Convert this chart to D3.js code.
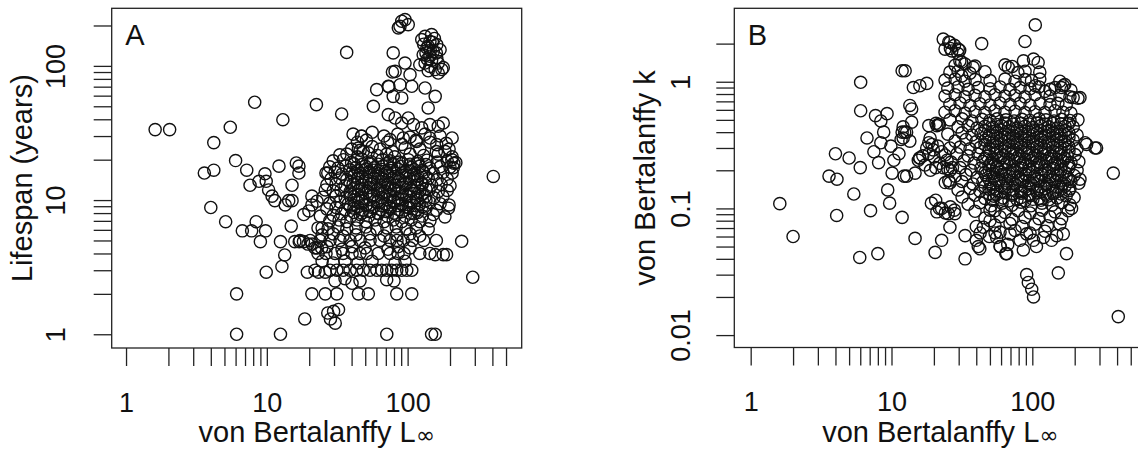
<!DOCTYPE html>
<html>
<head>
<meta charset="utf-8">
<script src="https://cdn.jsdelivr.net/npm/d3@7"></script>
<style>
  body { margin: 0; background: #fff; }
  svg text { font-family: "Liberation Sans", Arial, sans-serif; fill: #111; }
</style>
</head>
<body>
<svg id="chart" width="1138" height="455"></svg>
<script>
const svg = d3.select("#chart");

// log axis ticks, labels only on the decades
const linfTicks = [1,2,3,4,5,6,7,8,9,10,20,30,40,50,60,70,80,90,100,200,300,400,500];
const linfLabels = [1, 10, 100];
const lifespanTicks = [1,2,3,4,5,6,7,8,9,10,20,30,40,50,60,70,80,90,100,200];
const lifespanLabels = [1, 10, 100];
const kTicks = [0.01,0.02,0.03,0.04,0.05,0.06,0.07,0.08,0.09,0.1,0.2,0.3,0.4,0.5,0.6,0.7,0.8,0.9,1,2];
const kLabels = [0.01, 0.1, 1];

// panel A: [L-infinity, lifespan (years)]
const linfLifespan = [
  [1.61,33.5],[2.04,33.5],[8.2,53.6],[22.5,51.4],[13.0,39.7],[5.5,34.9],[4.2,26.8],[6.0,19.7],[3.6,15.9],[4.2,16.7],
  [7.2,16.7],[7.6,12.9],[8.8,13.8],[9.7,15.7],[9.9,13.8],[10.3,11.9],[10.9,10.7],[11.4,9.9],[12.2,17.9],[16.2,18.9],
  [16.9,17.9],[16.9,15.9],[15.1,12.9],[4.0,8.8],[5.1,6.9],[6.7,5.9],[7.8,5.9],[8.4,6.9],[9.8,5.9],[9.0,4.9],
  [12.5,4.9],[13.4,3.9],[12.8,3.2],[9.9,2.9],[14.9,6.4],[13.5,9.2],[14.3,9.9],[15.1,9.9],[15.8,4.9],[17.0,4.9],
  [18.2,4.9],[19.6,4.7],[21.0,4.7],[22.8,4.4],[24.5,4.4],[18.3,7.8],[19.9,8.3],[20.9,10.7],[20.9,9.2],[22.7,9.8],
  [24.0,7.6],[24.7,6.2],[26.0,11.9],[19.4,2.9],[23.3,2.9],[26.0,2.9],[6.1,2.0],[20.9,2.0],[26.0,2.0],[18.6,1.3],
  [6.1,1.0],[12.5,1.0],[27.1,1.44],[28.3,1.3],[27.1,15.9],
  [90.8,215],[95.8,221],[88.3,197],[101,203],[85.9,192],
  [133,166],[148,171],[126,157],[144,152],[161,144],[137,136],[152,128],[170,132],[129,121],[144,118],
  [161,115],[175,94],[144,99],[133,105],[157,94],[179,97],[140,92],[122,102],[165,88.5],
  [140,140],[150,150],[135,125],[148,110],[160,125],[130,145],[155,160],[145,130],[165,105],[138,112],
  [36.9,126],[79,125],[81.5,91],[95.8,105],[104,86],[88.3,72.4],[107,70.5],[60.3,66.5],[72.9,70.5],[79,59.3],
  [90.8,57.7],[57.1,50],[133,68.4],[157,59.3],[140,48.6],[34,43.8],[72.9,43.3],[81.5,40.9],[101,40.9],[90.8,37.5],
  [110,36.5],[126,34.5],[144,36.5],[165,35.5],[179,37.5],[47.2,29.9],[44.7,24.4],[48.4,23.1],[75,28.2],[93.1,29],
  [116,27.4],[144,29],[161,25.9],[184,23.1],[206,20],[211,17.4],[406,15.0],[195,8.7],[242,4.93],[179,3.92],
  [189,3.92],[157,3.92],[290,2.66],[71.1,1],[148,1],[157,1],[29.8,1.48],[30.6,1.21],[32.3,1.53],
  [31.4,2],[44.7,2],[52.6,2],[83.7,2],[107,2],[78,90],[73.6,70],
  [41,31],[47,30],[56,32],[68,30],[85,31],[104,29.5],[133,31],[170,30],[207,29],
  [44,27],[51,28],[72,27],[91,26],[115,28],[144,27],[188,26.5],
  [40,24],[46,23.5],[56,25],[64,24],[78,23],[96,24.5],[122,24],[160,23],[197,24],
  [33,21.7],[37,22],[44,21],[52.5,22.5],[61,21.5],[71,22],[81,21],[104,22],[130,21.5],[165,22],[207,21],[220,19],
  [29.6,19.6],[35,20],[40,19],[47,20.3],[55,19.3],[66,20],[75,19.6],[87,19.2],[101,20],[118,19.4],[137,19.8],[162,19.2],[191,19.6],[213,18.8],
  [28,17.7],[32,17.3],[36.5,18],[43,17.5],[50,17.9],[58,17.4],[67,17.8],[77.5,17.3],[90,17.8],[106,17.5],[122,17.9],[144,17.3],[170,17.7],[200,17.6],
  [26.3,15.9],[30.5,16.2],[34.3,15.6],[40.3,16],[46,15.8],[53,16.2],[62,15.7],[71.5,16],[83,15.8],[96,16.2],[111,15.7],[130,16],[152,15.8],[178,16.1],[207,15.9],
  [28.6,14.4],[33,14.6],[37,14.2],[44,14.5],[50.6,14.3],[58,14.6],[67,14.3],[77.5,14.5],[88,14.2],[102,14.6],[118,14.3],[140,14.5],[162,14.2],[191,14.4],
  [26.7,13],[31,13.2],[36,12.8],[41,13.1],[47.4,12.9],[55,13.2],[64,12.8],[72.5,13.1],[83,12.9],[96,13.2],[111,12.8],[127,13.1],[148,12.9],[173,13.1],[200,12.8],
  [29.6,11.7],[33.6,11.9],[39,11.5],[45,11.8],[52.5,11.6],[60.6,11.9],[69,11.6],[80,11.8],[91,11.5],[106,11.8],[122,11.6],[142,11.9],[165,11.6],[191,11.8],
  [25,10.5],[31,10.7],[36,10.4],[41.6,10.6],[48,10.3],[56,10.7],[65,10.4],[75,10.6],[85.5,10.3],[99,10.7],[115,10.4],[133,10.6],[154,10.4],[178,10.6],
  [28,9.5],[33,9.7],[38,9.4],[44.4,9.6],[51.4,9.3],[60.6,9.6],[69,9.4],[80,9.7],[91,9.4],[106,9.6],[122,9.3],[144,9.6],[170,9.4],[197,9.2],
  [26.7,8.6],[31,8.8],[36,8.5],[41.6,8.7],[48,8.4],[56,8.8],[65,8.5],[75,8.7],[87,8.5],[101,8.8],[117,8.5],[135,8.7],[160,8.4],
  [29.6,7.7],[34,7.9],[39.7,7.6],[46,7.8],[53,7.6],[62,7.9],[71.5,7.6],[83,7.8],[96,7.6],[111,7.9],[127,7.6],[152,7.8],[184,7.5],
  [28,7],[32.6,7.1],[37,6.9],[43.7,7.1],[50.6,6.9],[58.7,7.1],[68,6.9],[79,7.1],[91,6.9],[106,7.1],[122,6.9],[144,7],
  [23.1,6.2],[27.2,6.1],[32,6.3],[37,6.1],[43,6.2],[50.6,6.3],[60.6,6.1],[71.3,6.2],[83,6.3],[97.5,6.1],[115,6.2],[140,6.1],
  [24.7,5.5],[29.6,5.6],[34.8,5.4],[43,5.5],[54,5.6],[68,5.4],[84,5.5],[104,5.6],[122,5.4],
  [17.2,5],[20.3,5],[23.9,5],[28.1,5],[33.1,5],[39,5],[45.9,5],[54.1,5],[63.7,5],[75,5],[84,5],[93,5],[108,5],[130,5],[160,5],
  [22,4.4],[26.7,4.5],[34.2,4.3],[40.3,4.5],[49.8,4.4],[72.5,4.3],[85.5,4.5],[104,4.4],
  [23.1,4],[26.3,4],[30.5,4],[34.8,4],[40.3,4],[45.9,4],[51.4,4],[61.7,4],[75,4],[85.5,4],[94.3,4],[122,4],[144,4],
  [24.7,3.5],[29.6,3.4],[35.9,3.5],[44.4,3.4],[55.9,3.5],[81.4,3.4],[95.9,3.5],
  [22,3],[28.1,3],[31.4,3],[34.9,3],[39,3],[43.5,3],[48.4,3],[54,3],[60.4,3],[65.5,3],[71.1,3],[77.1,3],[83.7,3],[90.8,3],[98.6,3],[107,3],
  [30.5,2.5],[35.9,2.6],[40.3,2.4],[45.9,2.5],[71,2.55],[80,2.5],
  [41.6,18.6],[47.4,18.4],[54.1,18.8],[61.7,18.5],[71.3,18.7],[80.1,18.4],[91,18.8],[104,18.5],[118,18.7],[135,18.4],
  [39,16.8],[44.4,16.6],[50.6,17],[57.7,16.7],[65.8,16.9],[75,16.6],[85.5,17],[97.5,16.7],[111,16.9],[127,16.6],
  [41.6,15.1],[47.4,14.9],[54.1,15.2],[61.7,15],[71.3,15.2],[80.1,14.9],[91,15.2],[104,15],[118,15.1],[135,14.9],
  [39,13.6],[44.4,13.4],[50.6,13.7],[57.7,13.5],[65.8,13.7],[75,13.4],[85.5,13.7],[97.5,13.5],[111,13.7],[127,13.4],
  [41.6,12.3],[47.4,12.1],[54.1,12.4],[61.7,12.2],[71.3,12.4],[80.1,12.1],[91,12.4],[104,12.2],[118,12.3],[135,12.1],
  [39,11.1],[44.4,11],[50.6,11.2],[57.7,11],[65.8,11.2],[75,11],[85.5,11.2],[97.5,11],[111,11.2],[127,11],
  [41.6,10],[47.4,9.9],[54.1,10.1],[61.7,9.9],[71.3,10.1],[80.1,9.9],[91,10.1],[104,9.9],[118,10],[135,9.9],
  [39,9],[44.4,8.9],[50.6,9.1],[57.7,8.9],[65.8,9.1],[75,8.9],[85.5,9.1],[97.5,8.9],[111,9.1],[127,8.9],
  [41.6,8.1],[47.4,8],[54.1,8.2],[61.7,8],[71.3,8.2],[80.1,8],[91,8.2],[104,8],[118,8.1]
];

// panel B: [L-infinity, growth coefficient k]
const linfK = [
  [6.04,0.99],[11.9,1.22],[6.04,0.59],[7.7,0.54],[9.3,0.56],[8.4,0.49],[6.7,0.36],[8.8,0.40],[8.4,0.33],[9.9,0.31],
  [7.5,0.28],[8.1,0.23],[10.4,0.24],[10.1,0.19],[11.3,0.27],[11.9,0.40],[4.0,0.27],[5.0,0.25],[6.0,0.21],[3.6,0.18],
  [4.1,0.17],[5.4,0.13],[9.4,0.14],[9.7,0.11],[7.1,0.096],[11.9,0.085],[4.08,0.088],[1.61,0.109],[2.0,0.060],[5.95,0.041],
  [8.0,0.044],[12.3,0.18],
  [105,2.81],[88.7,2.08],[43.7,2.0],[23.3,2.17],[26,2.04],[24,1.81],[26.8,1.75],[29.8,1.81],[30.6,1.46],[31.6,1.11],
  [38,1.30],[86.6,1.46],[102,1.51],[110,1.42],[67.5,1.30],[12.5,1.22],[105,0.93],[123,0.84],[145,0.90],[166,0.93],
  [195,0.75],[14.3,0.90],[15.9,0.93],[17.8,0.97],[13.5,0.65],[13.9,0.61],[13.9,0.48],[12.8,0.40],[12.1,0.36],[13.5,0.34],
  [21,0.45],[21.5,0.46],[18.8,0.36],[17.8,0.30],[19.8,0.29],[22.7,0.28],[15.9,0.25],[15.5,0.24],[17.3,0.22],[12.8,0.18],
  [14.7,0.19],[19.2,0.11],[21,0.094],[22.7,0.10],[25.3,0.091],[26,0.071],[28.2,0.091],[14.7,0.058],[20.4,0.045],[22.7,0.056],
  [33.3,0.040],[33.3,0.061],[40,0.056],[42.4,0.048],[44.9,0.071],[50.1,0.080],[54.3,0.096],[55.8,0.059],[59,0.050],[65.8,0.044],
  [69.5,0.063],[81.8,0.056],[86.4,0.047],[91.2,0.063],[102,0.056],[107,0.050],[120,0.059],[137,0.056],[149,0.061],[166,0.063],
  [175,0.044],[190,0.10],[153,0.031],[91.2,0.030],[93.7,0.026],[99,0.023],[102,0.020],[185,0.143],[243,0.32],[279,0.30],
  [237,0.33],[286,0.30],[376,0.19],[408,0.014],[218,0.75],[218,0.17],
  [18.4,0.45],[20.7,0.47],[21.9,0.46],[18.4,0.33],[19.4,0.32],[21.3,0.31],
  [15.8,0.25],[16.7,0.26],[18.4,0.27],[20,0.255],[22,0.227],[23.3,0.21],[24.8,0.24],[27.1,0.21],
  [18.9,0.2],[20.6,0.21],[24.1,0.16],[25.5,0.166],[26.2,0.2],[20.6,0.116],[21.9,0.1],[24.1,0.092],[26.2,0.103],[28,0.097],
  [12.1,0.44],[12.4,0.40],[11.7,0.35],[29.6,1.67],[31.5,1.43],[25.5,2.06],[26.2,1.83],[28,1.94],[30.5,1.77],
  [49.5,0.06],[54.4,0.064],[59.3,0.05],[64.9,0.044],[66.9,0.052],[40,0.072],[42.6,0.064],[41.3,0.05],
  [28.3,1.35],[33.3,1.38],[39.2,1.33],[64,1.36],[72,1.32],
  [26,1.19],[29.7,1.21],[36.1,1.17],[46.1,1.2],[79,1.18],[88.8,1.21],[113,1.19],
  [24,1.03],[28.3,1.05],[33.3,1.01],[39.2,1.04],[50.1,1.02],[64,1.05],[75.4,1.01],[88.8,1.04],[98.7,1.02],[113,1.05],[157,1.01],[170,0.95],
  [25.1,0.89],[29.7,0.91],[35,0.87],[41.2,0.9],[50.1,0.88],[59,0.91],[69.4,0.87],[81.8,0.9],[96.3,0.88],[111.6,0.91],[133.6,0.87],[161,0.9],[188,0.86],
  [24,0.77],[28.3,0.79],[33.3,0.76],[39.2,0.78],[46.1,0.76],[54.3,0.79],[64,0.77],[75.4,0.78],[88.8,0.76],[104.5,0.79],[133.6,0.77],[157,0.78],[185,0.76],[211,0.74],
  [26,0.665],[30.7,0.68],[36.1,0.65],[42.5,0.67],[50.1,0.655],[59,0.68],[69.4,0.66],[81.8,0.675],[96.3,0.655],[113.4,0.67],[133.6,0.66],[152,0.675],[174,0.655],
  [24,0.575],[28.3,0.59],[33.3,0.565],[39.2,0.58],[46.1,0.57],[54.3,0.59],[64,0.575],[75.4,0.585],[88.8,0.57],[104.5,0.58],[123,0.57],[145,0.59],[165,0.575],[188,0.565],
  [26,0.5],[31.7,0.51],[37.3,0.49],[43.9,0.505],[50.1,0.495],[56.3,0.51],[65,0.5],[74.2,0.49],[84.5,0.505],[96.3,0.495],[111.6,0.51],[125,0.5],[142.7,0.49],[161.5,0.505],[185,0.495],[211,0.5],
  [29.7,0.44],[35,0.45],[40.5,0.43],[46.1,0.445],[52.5,0.435],[60,0.45],[68.3,0.44],[77.9,0.43],[88.8,0.445],[101,0.435],[115,0.45],[131,0.44],[150,0.43],[170.7,0.445],[195,0.44],
  [25.1,0.386],[31.7,0.395],[37.3,0.38],[43.2,0.39],[49.3,0.38],[56,0.395],[64,0.386],[73,0.378],[83.2,0.392],[94.8,0.382],[108,0.395],[123,0.38],[140.4,0.39],[160,0.384],[182,0.392],[208,0.38],
  [28.3,0.34],[33.8,0.35],[39.8,0.335],[46.1,0.345],[52.5,0.335],[60,0.35],[68.3,0.34],[77.9,0.332],[88.8,0.346],[101,0.336],[115,0.348],[131,0.334],[150,0.344],[170.7,0.338],[195,0.346],
  [26,0.3],[30.7,0.305],[36.1,0.295],[42.5,0.302],[49.3,0.296],[56,0.306],[64,0.3],[73,0.294],[83.2,0.304],[94.8,0.297],[108,0.306],[123,0.295],[140.4,0.303],[160,0.298],[182,0.305],[208,0.296],
  [24,0.264],[29.2,0.27],[35,0.26],[41.2,0.268],[47.6,0.259],[54.3,0.27],[61.9,0.262],[70.5,0.268],[80.5,0.26],[91.7,0.27],[104.5,0.262],[119,0.268],[136,0.259],[155,0.27],[176.6,0.262],[201,0.266],
  [26.5,0.232],[32.8,0.238],[38.6,0.228],[44.6,0.235],[50.9,0.229],[58,0.238],[66,0.23],[75.4,0.236],[85.9,0.229],[98,0.237],[111.6,0.23],[127,0.235],[145,0.228],[165,0.236],[188,0.23],[214,0.234],
  [25.1,0.205],[30.7,0.21],[36.7,0.2],[43.2,0.208],[49.3,0.202],[56,0.21],[64,0.204],[73,0.199],[83.2,0.208],[94.8,0.202],[108,0.21],[123,0.2],[140.4,0.207],[160,0.202],[182,0.209],[208,0.2],
  [28.3,0.18],[33.8,0.185],[40.5,0.176],[46.8,0.183],[53.4,0.177],[60.9,0.185],[69.4,0.179],[79.2,0.176],[90.3,0.184],[103,0.177],[117,0.185],[133.6,0.178],[152,0.183],[174,0.177],[198,0.182],
  [26,0.159],[31.7,0.163],[37.9,0.156],[44.6,0.162],[50.9,0.157],[58,0.164],[66,0.158],[75.4,0.155],[85.9,0.163],[98,0.157],[111.6,0.164],[127,0.156],[145,0.162],[165,0.157],[188,0.163],[214,0.158],
  [29.7,0.14],[36.1,0.144],[42.5,0.137],[49.3,0.142],[56,0.138],[64,0.145],[73,0.139],[83.2,0.136],[94.8,0.143],[108,0.138],[123,0.144],[140.4,0.137],[160,0.142],[182,0.138],
  [31.7,0.123],[39.2,0.127],[46.1,0.12],[53.4,0.125],[61.9,0.121],[71.7,0.127],[83.2,0.122],[96.3,0.126],[111.6,0.12],[128,0.125],[150,0.121],[174,0.126],[198,0.122],
  [35,0.108],[42.5,0.111],[51,0.105],[60.9,0.11],[71.7,0.106],[83.2,0.112],[98,0.105],[117,0.11],[138,0.106],[161.5,0.111],[185,0.107],
  [39.2,0.095],[50.1,0.097],[64,0.093],[79.2,0.096],[96.3,0.092],[117,0.097],[145,0.094],[180,0.096],
  [46.1,0.084],[59,0.086],[71.7,0.082],[88.8,0.085],[111.6,0.083],[133.6,0.086],[161.5,0.083],
  [54.3,0.074],[69.4,0.076],[84.5,0.072],[104.5,0.075],[128,0.073],[157,0.075],
  [59,0.065],[75.4,0.067],[96.3,0.064],[123,0.066],
  [49.3,0.467],[56,0.46],[64,0.472],[73,0.462],[83.2,0.47],[94.8,0.464],[108,0.471],[123,0.463],[140.4,0.468],[160,0.465],[182,0.47],
  [46.1,0.411],[52.5,0.405],[60,0.416],[68.3,0.408],[77.9,0.414],[88.8,0.406],[101,0.415],[115,0.409],[131,0.413],[150,0.407],[170.7,0.412],
  [49.3,0.362],[56,0.357],[64,0.366],[73,0.359],[83.2,0.365],[94.8,0.358],[108,0.364],[123,0.36],[140.4,0.366],[160,0.358],[182,0.363],
  [46.1,0.319],[52.5,0.315],[60,0.323],[68.3,0.316],[77.9,0.322],[88.8,0.315],[101,0.321],[115,0.317],[131,0.322],[150,0.316],[170.7,0.32],
  [49.3,0.281],[56,0.277],[64,0.284],[73,0.278],[83.2,0.283],[94.8,0.277],[108,0.284],[123,0.279],[140.4,0.283],[160,0.278],[182,0.282],
  [46.1,0.248],[52.5,0.244],[60,0.251],[68.3,0.245],[77.9,0.25],[88.8,0.245],[101,0.251],[115,0.246],[131,0.25],[150,0.245],[170.7,0.249],
  [49.3,0.218],[56,0.215],[64,0.221],[73,0.216],[83.2,0.22],[94.8,0.215],[108,0.221],[123,0.216],[140.4,0.22],[160,0.216],[182,0.219],
  [46.1,0.192],[52.5,0.189],[60,0.194],[68.3,0.19],[77.9,0.194],[88.8,0.189],[101,0.194],[115,0.19],[131,0.193],[150,0.19],[170.7,0.193],
  [49.3,0.169],[56,0.166],[64,0.171],[73,0.167],[83.2,0.17],[94.8,0.166],[108,0.171],[123,0.167],[140.4,0.17],[160,0.167],[182,0.17],
  [46.1,0.149],[52.5,0.147],[60,0.151],[68.3,0.148],[77.9,0.151],[88.8,0.147],[101,0.151],[115,0.148],[131,0.15],[150,0.148],[170.7,0.15],
  [49.3,0.131],[56,0.129],[64,0.133],[73,0.13],[83.2,0.132],[94.8,0.129],[108,0.133],[123,0.13],[140.4,0.132],[160,0.13],
  [52.5,0.116],[60,0.118],[68.3,0.115],[77.9,0.117],[88.8,0.115],[101,0.118],[115,0.116],[131,0.117]
];

const panels = [
  {
    letter: "A", data: linfLifespan,
    yTicks: lifespanTicks, yLabels: lifespanLabels, yTitle: "Lifespan (years)",
    x: d3.scaleLog().domain([0.791, 646]).range([111.7, 521.7]),
    y: d3.scaleLog().domain([0.79, 268.6]).range([348, 8.3]),
    yLabelX: 65, yTitleX: 32
  },
  {
    letter: "B", data: linfK,
    yTicks: kTicks, yLabels: kLabels, yTitle: "von Bertalanffy k",
    x: d3.scaleLog().domain([0.765, 646]).range([734.3, 1146.4]),
    y: d3.scaleLog().domain([0.00798, 3.80]).range([347.5, 8.3]),
    yLabelX: 690, yTitleX: 655
  }
];

const tickLen = 18;

panels.forEach(drawPanel);

function drawPanel(p) {
  const [x0, x1] = p.x.range();
  const [y1, y0] = p.y.range();
  const g = svg.append("g");

  g.selectAll(".pt")
    .data(p.data)
    .enter()
    .append("circle")
    .attr("class", "pt")
    .attr("cx", d => p.x(d[0]))
    .attr("cy", d => p.y(d[1]))
    .attr("r", 6.1)
    .attr("fill", "none")
    .attr("stroke", "#111")
    .attr("stroke-width", 1.4);

  g.append("rect")
    .attr("x", x0).attr("y", y0)
    .attr("width", x1 - x0).attr("height", y1 - y0)
    .attr("fill", "none")
    .attr("stroke", "#222")
    .attr("stroke-width", 1.3);

  const xa = g.append("g")
    .attr("transform", `translate(0, ${y1})`)
    .call(d3.axisBottom(p.x)
      .tickValues(linfTicks)
      .tickSize(tickLen)
      .tickFormat(d => linfLabels.includes(d) ? d : ""));
  xa.select(".domain").remove();
  xa.selectAll("line").attr("stroke", "#222").attr("stroke-width", 1.3);
  xa.selectAll("text")
    .attr("y", 63.5)
    .attr("dy", null)
    .attr("font-size", 27)
    .attr("font-family", null);

  const ya = g.append("g")
    .attr("transform", `translate(${x0}, 0)`)
    .call(d3.axisLeft(p.y)
      .tickValues(p.yTicks)
      .tickSize(tickLen)
      .tickFormat(d => p.yLabels.includes(d) ? d : ""));
  ya.select(".domain").remove();
  ya.selectAll("line").attr("stroke", "#222").attr("stroke-width", 1.3);
  ya.selectAll("text")
    .attr("x", 0)
    .attr("y", -(x0 - p.yLabelX))
    .attr("dy", null)
    .attr("transform", "rotate(-90)")
    .attr("text-anchor", "middle")
    .attr("font-size", 27)
    .attr("font-family", null);

  const xt = g.append("text")
    .attr("x", (x0 + x1) / 2)
    .attr("y", 442)
    .attr("text-anchor", "middle")
    .attr("font-size", 29)
    .text("von Bertalanffy L");
  xt.append("tspan")
    .attr("font-family", "DejaVu Sans")
    .attr("font-size", 23)
    .attr("dy", 1)
    .text("\u221E");

  g.append("text")
    .attr("transform", `translate(${p.yTitleX}, ${(y0 + y1) / 2}) rotate(-90)`)
    .attr("text-anchor", "middle")
    .attr("font-size", 29)
    .text(p.yTitle);

  g.append("text")
    .attr("x", x0 + 13.5)
    .attr("y", 45)
    .attr("font-size", 29)
    .text(p.letter);
}
</script>
</body>
</html>
